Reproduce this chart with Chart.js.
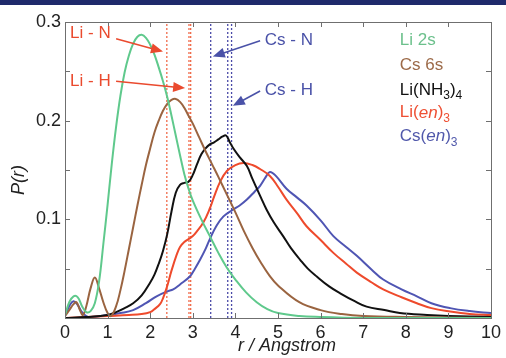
<!DOCTYPE html>
<html>
<head>
<meta charset="utf-8">
<script src="https://cdn.jsdelivr.net/npm/chart.js@4"></script>
<style>
  html, body { margin: 0; padding: 0; background: #fff; }
  #topbar { position: absolute; left: 0; top: 0; width: 506px; height: 5px; background: #1f2a6b; }
  #wrap { position: absolute; left: 0; top: 0; width: 506px; height: 358px; }
</style>
</head>
<body>
<div id="wrap"><canvas id="chart" width="506" height="358"></canvas></div>
<div id="topbar"></div>
<script>
// radial distribution P(r), r in Angstrom
const r_li2s = [0, 0.1, 0.2, 0.3, 0.4, 0.5, 0.6, 0.7, 0.8, 0.9, 1.0, 1.1, 1.2, 1.3, 1.4, 1.5, 1.6, 1.7, 1.8, 1.9, 2.0, 2.1, 2.2, 2.3, 2.4, 2.5, 2.6, 2.7, 2.8, 2.9, 3.0, 3.2, 3.4, 3.6, 3.8, 4.0, 4.25, 4.5, 4.75, 5.0, 5.5, 6, 7, 8, 10];
const p_li2s = [0.003, 0.016, 0.022, 0.021, 0.012, 0.006, 0.007, 0.015, 0.037, 0.075, 0.115, 0.157, 0.194, 0.225, 0.249, 0.266, 0.278, 0.285, 0.287, 0.284, 0.277, 0.267, 0.254, 0.24, 0.224, 0.205, 0.185, 0.165, 0.146, 0.131, 0.119, 0.1, 0.083, 0.066, 0.051, 0.039, 0.026, 0.016, 0.009, 0.005, 0.002, 0.001, 0, 0, 0];

const r_cs6s = [0, 0.1, 0.2, 0.27, 0.35, 0.42, 0.5, 0.6, 0.7, 0.8, 0.9, 1.0, 1.08, 1.2, 1.3, 1.4, 1.5, 1.6, 1.7, 1.8, 1.9, 2.0, 2.1, 2.2, 2.3, 2.4, 2.5, 2.6, 2.7, 2.8, 2.9, 3.0, 3.15, 3.3, 3.45, 3.6, 3.8, 4.0, 4.2, 4.4, 4.6, 4.8, 5.0, 5.5, 6.0, 6.5, 7, 8, 10];
const p_cs6s = [0.002, 0.008, 0.014, 0.016, 0.008, 0.003, 0.012, 0.03, 0.041, 0.03, 0.016, 0.005, 0.002, 0.012, 0.028, 0.048, 0.07, 0.092, 0.114, 0.135, 0.155, 0.172, 0.188, 0.2, 0.21, 0.217, 0.221, 0.222, 0.219, 0.213, 0.205, 0.197, 0.183, 0.169, 0.156, 0.143, 0.125, 0.107, 0.088, 0.071, 0.056, 0.043, 0.033, 0.016, 0.008, 0.004, 0.002, 0.001, 0];

const r_linh3 = [0, 0.5, 1.0, 1.2, 1.4, 1.6, 1.8, 2.0, 2.1, 2.2, 2.3, 2.4, 2.5, 2.6, 2.7, 2.8, 2.9, 3.0, 3.1, 3.2, 3.3, 3.4, 3.5, 3.6, 3.7, 3.78, 3.86, 3.95, 4.1, 4.27, 4.4, 4.6, 4.73, 4.9, 5.12, 5.3, 5.52, 5.7, 5.91, 6.2, 6.46, 6.8, 7.08, 7.5, 7.86, 8.5, 9, 10];
const p_linh3 = [0, 0.001, 0.003, 0.006, 0.01, 0.015, 0.023, 0.036, 0.044, 0.055, 0.068, 0.085, 0.108, 0.127, 0.135, 0.137, 0.138, 0.145, 0.156, 0.166, 0.172, 0.176, 0.178, 0.181, 0.184, 0.185, 0.179, 0.172, 0.163, 0.154, 0.141, 0.122, 0.11, 0.097, 0.083, 0.071, 0.059, 0.05, 0.042, 0.032, 0.025, 0.017, 0.0115, 0.008, 0.005, 0.003, 0.002, 0.001];

const r_lien = [0, 0.5, 1.0, 1.5, 1.8, 2.0, 2.1, 2.23, 2.3, 2.39, 2.5, 2.62, 2.7, 2.8, 2.9, 3.0, 3.1, 3.25, 3.4, 3.5, 3.64, 3.8, 4.0, 4.19, 4.4, 4.58, 4.81, 5.0, 5.2, 5.45, 5.67, 6.0, 6.3, 6.6, 6.85, 7.2, 7.47, 7.9, 8.26, 8.6, 9.04, 9.5, 10];
const p_lien = [0, 0.001, 0.002, 0.003, 0.004, 0.006, 0.009, 0.014, 0.02, 0.031, 0.048, 0.064, 0.072, 0.077, 0.08, 0.083, 0.088, 0.097, 0.111, 0.123, 0.138, 0.149, 0.155, 0.157, 0.155, 0.151, 0.144, 0.133, 0.12, 0.106, 0.093, 0.079, 0.066, 0.055, 0.046, 0.036, 0.029, 0.021, 0.015, 0.01, 0.0065, 0.004, 0.003];

const r_csen = [0, 0.1, 0.2, 0.3, 0.4, 0.5, 0.6, 1.0, 1.3, 1.6, 1.9, 2.15, 2.4, 2.54, 2.7, 2.93, 3.05, 3.17, 3.3, 3.4, 3.55, 3.72, 3.95, 4.1, 4.27, 4.45, 4.58, 4.7, 4.81, 4.95, 5.2, 5.45, 5.67, 6.0, 6.3, 6.6, 6.85, 7.2, 7.47, 7.9, 8.26, 8.6, 9.04, 9.5, 10];
const p_csen = [0.002, 0.012, 0.017, 0.013, 0.006, 0.002, 0.001, 0.003, 0.005, 0.008, 0.015, 0.022, 0.027, 0.029, 0.034, 0.042, 0.05, 0.059, 0.07, 0.08, 0.093, 0.103, 0.11, 0.114, 0.12, 0.128, 0.134, 0.142, 0.148, 0.144, 0.131, 0.122, 0.114, 0.099, 0.083, 0.072, 0.063, 0.049, 0.039, 0.029, 0.022, 0.015, 0.01, 0.007, 0.005];

// marked distances
const liLines = [2.39, 2.91, 2.95];
const csLines = [3.42, 3.82, 3.91];

const xTicks = [0, 1, 2, 3, 4, 5, 6, 7, 8, 9, 10];
const yLabels = [0.1, 0.2, 0.3];

const pts = (xs, ys) => xs.map((x, i) => ({ x: x, y: ys[i] }));
const curve = (label, xs, ys, color) => ({
  label: label, data: pts(xs, ys), borderColor: color, borderWidth: 2,
  pointRadius: 0, tension: 0.4, fill: false
});
const vline = (x, color) => ({
  data: [{ x: x, y: 0 }, { x: x, y: 0.3 }], borderColor: color, borderWidth: 1.3,
  borderDash: [2, 2], pointRadius: 0, fill: false
});

const FONT = '"Liberation Sans", Arial, sans-serif';

const extras = {
  id: 'extras',
  afterDraw(chart) {
    const c = chart.ctx, xs = chart.scales.x, ys = chart.scales.y, a = chart.chartArea;
    const X = v => xs.getPixelForValue(v), Y = v => ys.getPixelForValue(v);
    c.save();
    // frame + inward ticks
    c.strokeStyle = '#6f6f6f'; c.lineWidth = 1;
    c.strokeRect(a.left + 0.5, a.top + 0.5, a.right - a.left, a.bottom - a.top);
    c.beginPath();
    xTicks.forEach(v => {
      const px = Math.round(X(v)) + 0.5;
      c.moveTo(px, a.bottom); c.lineTo(px, a.bottom - 5);
      c.moveTo(px, a.top); c.lineTo(px, a.top + 5);
    });
    for (let i = 0; i <= 6; i++) {
      const py = Math.round(Y(i * 0.05)) + 0.5;
      c.moveTo(a.left, py); c.lineTo(a.left + 5, py);
      c.moveTo(a.right, py); c.lineTo(a.right - 5, py);
    }
    c.stroke();

    // arrows
    const arrow = (x0, y0, x1, y1, color) => {
      const sx = X(x0), sy = Y(y0), ex = X(x1), ey = Y(y1);
      const ang = Math.atan2(ey - sy, ex - sx);
      c.strokeStyle = color; c.fillStyle = color; c.lineWidth = 1.6;
      c.beginPath(); c.moveTo(sx, sy);
      c.lineTo(ex - 9 * Math.cos(ang), ey - 9 * Math.sin(ang)); c.stroke();
      c.beginPath(); c.moveTo(ex, ey);
      c.lineTo(ex - 12 * Math.cos(ang) + 5 * Math.sin(ang), ey - 12 * Math.sin(ang) - 5 * Math.cos(ang));
      c.lineTo(ex - 12 * Math.cos(ang) - 5 * Math.sin(ang), ey - 12 * Math.sin(ang) + 5 * Math.cos(ang));
      c.closePath(); c.fill();
    };
    const red = '#ea4a2e', blue = '#4a52a8';
    arrow(1.2, 0.283, 2.30, 0.270, red);
    arrow(1.2, 0.240, 2.82, 0.233, red);
    arrow(4.58, 0.281, 3.47, 0.265, blue);
    arrow(4.58, 0.230, 3.94, 0.215, blue);

    c.font = '17px ' + FONT; c.textBaseline = 'middle'; c.textAlign = 'left';
    c.fillStyle = red;
    c.fillText('Li - N', X(0.12), Y(0.289));
    c.fillText('Li - H', X(0.12), Y(0.240));
    c.fillStyle = blue;
    c.fillText('Cs - N', X(4.69), Y(0.281));
    c.fillText('Cs - H', X(4.69), Y(0.231));

    // legend with subscripts
    const lx = X(7.86);
    const parts = (y, segs) => {
      let x = lx;
      segs.forEach(s => {
        const sub = s.sub, it = s.it;
        c.font = (it ? 'italic ' : '') + (sub ? '12px ' : '17px ') + FONT;
        c.fillStyle = s.color;
        c.fillText(s.t, x, sub ? y + 6 : y);
        x += c.measureText(s.t).width;
      });
    };
    const g = '#6cc08c', b = '#9c6a48', k = '#111', rr = '#ee5034', bb = '#5058ab';
    parts(Y(0.281), [{ t: 'Li 2s', color: g }]);
    parts(Y(0.256), [{ t: 'Cs 6s', color: b }]);
    parts(Y(0.231), [{ t: 'Li(NH', color: k }, { t: '3', color: k, sub: 1 }, { t: ')', color: k }, { t: '4', color: k, sub: 1 }]);
    parts(Y(0.208), [{ t: 'Li(', color: rr }, { t: 'en', color: rr, it: 1 }, { t: ')', color: rr }, { t: '3', color: rr, sub: 1 }]);
    parts(Y(0.184), [{ t: 'Cs(', color: bb }, { t: 'en', color: bb, it: 1 }, { t: ')', color: bb }, { t: '3', color: bb, sub: 1 }]);

    // axis titles
    c.fillStyle = '#222';
    c.font = 'italic 18px ' + FONT; c.textAlign = 'center';
    c.fillText('r / Angstrom', 287, 346);
    c.translate(19, 180); c.rotate(-Math.PI / 2);
    c.fillText('P(r)', 0, 0);
    c.restore();
  }
};

new Chart(document.getElementById('chart').getContext('2d'), {
  type: 'line',
  data: {
    datasets: [
      curve('Li 2s', r_li2s, p_li2s, '#5fc98c'),
      curve('Cs 6s', r_cs6s, p_cs6s, '#9a6440'),
      curve('Li(NH3)4', r_linh3, p_linh3, '#111111'),
      curve('Li(en)3', r_lien, p_lien, '#ee4a2c'),
      curve('Cs(en)3', r_csen, p_csen, '#4f55b3'),
      ...liLines.map(x => vline(x, '#f06a4a')),
      ...csLines.map(x => vline(x, '#4a4aa8'))
    ]
  },
  options: {
    responsive: false,
    animation: false,
    layout: { padding: { left: 0, top: 22, right: 15, bottom: 0 } },
    plugins: { legend: { display: false }, tooltip: { enabled: false } },
    scales: {
      x: {
        type: 'linear', min: 0, max: 10,
        afterFit: s => { s.height = 40; },
        grid: { display: false, drawTicks: false }, border: { display: false },
        ticks: { stepSize: 1, padding: 4, color: '#222', font: { size: 18, family: FONT } }
      },
      y: {
        min: 0, max: 0.3,
        afterFit: s => { s.width = 65; },
        grid: { display: false, drawTicks: false }, border: { display: false },
        ticks: {
          stepSize: 0.05, padding: 4, color: '#222', font: { size: 18, family: FONT },
          callback: v => {
            const m = yLabels.find(l => Math.abs(l - v) < 1e-6);
            return m !== undefined ? m.toFixed(1) : '';
          }
        }
      }
    }
  },
  plugins: [extras]
});
</script>
</body>
</html>
